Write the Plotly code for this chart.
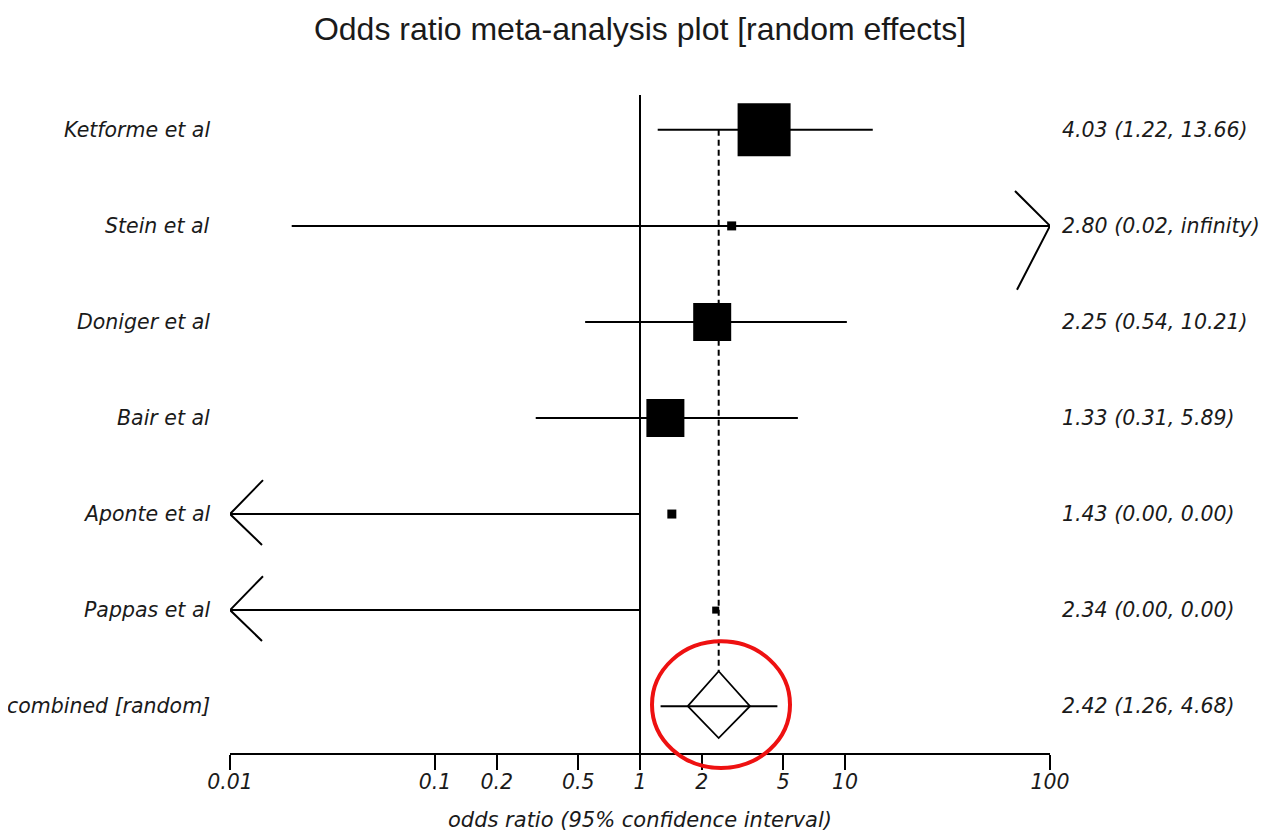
import math
import plotly.graph_objects as go

# ---------------- data ----------------
studies = ["Ketforme et al", "Stein et al", "Doniger et al", "Bair et al", "Aponte et al", "Pappas et al"]
odds_ratio = [4.03, 2.80, 2.25, 1.33, 1.43, 2.34]
ci_low = [1.22, 0.02, 0.54, 0.31, 0.00, 0.00]
ci_high = [13.66, math.inf, 10.21, 5.89, 0.00, 0.00]
box_px = [53, 9, 38, 38, 9, 7]          # box side (study weight), pixels

combined_label = "combined [random]"
combined_or = 2.42
combined_low = 1.26
combined_high = 4.68
diamond_low = 1.71
diamond_high = 3.44

tick_vals = [0.01, 0.1, 0.2, 0.5, 1, 2, 5, 10, 100]
tick_text = ["0.01", "0.1", "0.2", "0.5", "1", "2", "5", "10", "100"]

# ---------------- layout constants ----------------
W, H = 1268, 832
OFF = 8                                 # page body margin
L, R, T, B = 230 - OFF, 218 + OFF, 95 - OFF, 77 + OFF
PX_DEC = (W - L - R) / 4.0            # pixels per decade
Y_TOP, Y_BOT = -0.363, 6.488
PX_ROW = (H - T - B) / (Y_BOT - Y_TOP)
FONT = "DejaVu Sans"
INK = "#1a1a1a"

def xf(v, dpx):
    return v * 10 ** (dpx / PX_DEC)

def fmt(v):
    return "infinity" if math.isinf(v) else f"{v:.2f}"

fig = go.Figure()

def line(xs, ys, width=2, dash=None, color="black"):
    fig.add_trace(go.Scatter(x=xs, y=ys, mode="lines", hoverinfo="skip",
                             line=dict(color=color, width=width, dash=dash),
                             showlegend=False))

# vertical line at OR = 1
line([1, 1], [Y_TOP, Y_BOT])

# dashed combined line
line([combined_or, combined_or], [0, 6 - 35 / PX_ROW], dash="6px,4px")

for i, (o, lo, hi) in enumerate(zip(odds_ratio, ci_low, ci_high)):
    lo_d = lo if lo > 0.01 else 0.01
    if hi <= 0:
        hi_d = 1
    else:
        hi_d = min(hi, 100)
    line([lo_d, hi_d], [i, i])
    if lo <= 0.01:
        line([xf(lo_d, 33), lo_d, xf(lo_d, 32)], [i - 34 / PX_ROW, i, i + 31 / PX_ROW])
    if hi >= 100:
        line([xf(hi_d, -35), hi_d, xf(hi_d, -33)], [i - 35 / PX_ROW, i, i + 64 / PX_ROW])

# boxes
fig.add_trace(go.Scatter(x=odds_ratio, y=list(range(len(studies))), mode="markers",
                         marker=dict(symbol="square", size=box_px, color="black",
                                     opacity=1, line=dict(width=0)),
                         hoverinfo="skip", showlegend=False))

# combined
row_c = len(studies)
line([combined_low, combined_high], [row_c, row_c])
line([diamond_low, combined_or, diamond_high, combined_or, diamond_low],
     [row_c, row_c - 35 / PX_ROW, row_c, row_c + 32 / PX_ROW, row_c], width=1.8)

# labels
labels = studies + [combined_label]
right = [f"{o:.2f} ({fmt(lo)}, {fmt(hi)})" for o, lo, hi in zip(odds_ratio, ci_low, ci_high)]
right.append(f"{combined_or:.2f} ({fmt(combined_low)}, {fmt(combined_high)})")
plot_w = W - L - R
for i, (lt, rt) in enumerate(zip(labels, right)):
    fig.add_annotation(x=(212 - OFF - L) / plot_w, y=i, xref="paper", yref="y",
                       text=f"<i>{lt}</i>", showarrow=False, xanchor="right",
                       font=dict(family=FONT, size=20.5, color=INK))
    fig.add_annotation(x=(1060 - OFF - L) / plot_w, y=i, xref="paper", yref="y",
                       text=f"<i>{rt}</i>", showarrow=False, xanchor="left",
                       font=dict(family=FONT, size=20.5, color=INK))

# red highlight circle
plot_h = H - T - B
fig.add_shape(type="circle", xref="paper", yref="paper",
              x0=(652 - OFF - L) / plot_w, x1=(790 - OFF - L) / plot_w,
              y0=(H - B - (770 - OFF)) / plot_h, y1=(H - B - (643 - OFF)) / plot_h,
              line=dict(color="#ee1111", width=4))

fig.update_layout(
    width=W, height=H,
    margin=dict(l=L, r=R, t=T, b=B),
    plot_bgcolor="white", paper_bgcolor="white",
    title=dict(text="Odds ratio meta-analysis plot [random effects]",
               x=0.5, xref="paper", xanchor="center",
               y=1 - 21 / H, yref="container", yanchor="middle",
               font=dict(family="Liberation Sans", size=32, color=INK)),
    xaxis=dict(type="log", range=[-2, 2], showgrid=False, zeroline=False,
               showline=True, linecolor="black", linewidth=2,
               ticks="outside", ticklen=15, tickwidth=2, tickcolor="black",
               tickvals=tick_vals, ticktext=[f"<i>{t}</i>" for t in tick_text],
               tickfont=dict(family=FONT, size=20.5, color=INK),
               ticklabelstandoff=-6,
               title=dict(text="<i>odds ratio (95% confidence interval)</i>",
                          font=dict(family=FONT, size=21, color=INK), standoff=20),
               fixedrange=True),
    yaxis=dict(range=[Y_BOT, Y_TOP], visible=False, fixedrange=True),
)

fig.write_html("out.html")
